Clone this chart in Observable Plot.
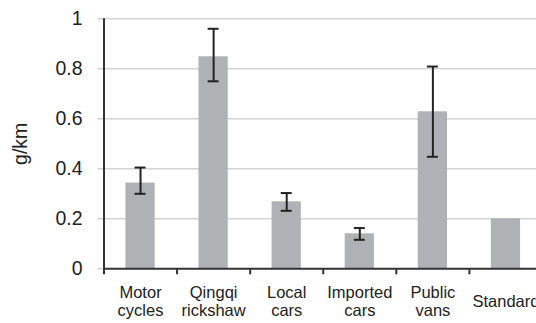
<!DOCTYPE html>
<html><head><meta charset="utf-8">
<script src="https://cdn.jsdelivr.net/npm/d3@7"></script>
<script src="https://cdn.jsdelivr.net/npm/@observablehq/plot@0.6"></script>
<style>html,body{margin:0;padding:0;overflow:hidden;background:#fff}</style>
</head><body><div id="chart"></div>
<script>
const categories = ["Motor\ncycles", "Qingqi\nrickshaw", "Local\ncars", "Imported\ncars", "Public\nvans", "Standard"];
const values = [0.343, 0.848, 0.268, 0.14, 0.628, 0.2];
const errLow = [0.30, 0.75, 0.232, 0.116, 0.448, null];
const errHigh = [0.405, 0.96, 0.303, 0.163, 0.809, null];
const yTicks = [0, 0.2, 0.4, 0.6, 0.8, 1];
const yTickLabels = ["0", "0.2", "0.4", "0.6", "0.8", "1"];
const yLabel = "g/km";

const data = categories.map((c, i) => ({i, c, v: values[i], lo: errLow[i], hi: errHigh[i]}));
const errData = data.filter(d => d.lo != null);
const boundaries = d3.range(categories.length + 1);

const plot = Plot.plot({
  width: 545, height: 323,
  marginLeft: 103.5, marginRight: 3, marginTop: 18.3, marginBottom: 54.7,
  style: {fontFamily: "'Liberation Sans', Arial, sans-serif", background: "#fff", color: "#222", maxWidth: "none"},
  x: {domain: [0, categories.length], axis: null},
  y: {domain: [0, 1], axis: null},
  marks: [
    Plot.gridY(yTicks.slice(1), {stroke: "#d4d4d4", strokeOpacity: 1, strokeWidth: 1.6}),
    Plot.axisY(yTicks, {tickSize: 6, stroke: "#d4d4d4", strokeWidth: 1.6, tickPadding: 15.5,
      tickFormat: d => yTickLabels[yTicks.indexOf(d)], fontSize: 19.5, fill: "#222",
      label: yLabel, labelAnchor: "center", labelOffset: 91, labelArrow: false}),
    Plot.rectY(data, {x1: d => d.i + 0.3, x2: d => d.i + 0.7, y: "v", fill: "#b0b1b4"}),
    Plot.ruleX(errData, {x: d => d.i + 0.5, y1: "lo", y2: "hi", stroke: "#222", strokeWidth: 2}),
    Plot.ruleY(errData, {y: "hi", x1: d => d.i + 0.425, x2: d => d.i + 0.575, stroke: "#222", strokeWidth: 2}),
    Plot.ruleY(errData, {y: "lo", x1: d => d.i + 0.425, x2: d => d.i + 0.575, stroke: "#222", strokeWidth: 2}),
    Plot.ruleY([0], {stroke: "#333", strokeWidth: 2}),
    Plot.ruleX([0], {y1: 0, y2: 1, stroke: "#333", strokeWidth: 2}),
    Plot.axisX(boundaries, {tickSize: 6, tickFormat: () => "", stroke: "#333", strokeWidth: 2, label: null}),
    Plot.text(data, {x: d => d.i + 0.5, y: 0, text: "c", dy: 32, lineAnchor: "middle",
      fontSize: 16.5, lineHeight: 1.1, fill: "#222"})
  ]
});
document.getElementById("chart").appendChild(plot);
</script>
</body></html>
